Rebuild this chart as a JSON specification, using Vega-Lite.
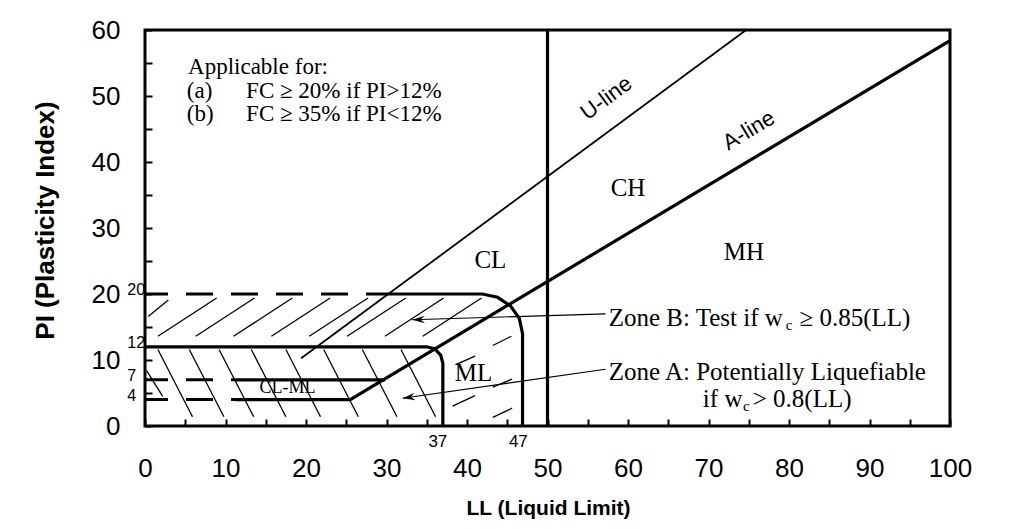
{
  "$schema": "https://vega.github.io/schema/vega-lite/v6.json",
  "width": 805,
  "height": 396,
  "autosize": {"type": "none"},
  "padding": {"left": 145, "top": 30, "right": 60, "bottom": 103},
  "background": "white",
  "view": {"stroke": "black", "strokeWidth": 3},
  "datasets": {
    "lines": [
      {"id": "D20", "ord": 1, "LL": 0, "PI": 20},
      {"id": "D20", "ord": 2, "LL": 30.3, "PI": 20},
      {"id": "D7", "ord": 1, "LL": 0, "PI": 7},
      {"id": "D7", "ord": 2, "LL": 11.2, "PI": 7},
      {"id": "D4", "ord": 1, "LL": 0, "PI": 4},
      {"id": "D4", "ord": 2, "LL": 11.2, "PI": 4},
      {"id": "A", "ord": 1, "LL": 11.2, "PI": 4},
      {"id": "A", "ord": 2, "LL": 25.5, "PI": 4},
      {"id": "A", "ord": 3, "LL": 100, "PI": 58.4},
      {"id": "P7", "ord": 1, "LL": 11.2, "PI": 7},
      {"id": "P7", "ord": 2, "LL": 29.8, "PI": 7},
      {"id": "L50", "ord": 1, "LL": 50, "PI": 0},
      {"id": "L50", "ord": 2, "LL": 50, "PI": 60},
      {"id": "ZB", "ord": 1, "LL": 30.3, "PI": 20},
      {"id": "ZB", "ord": 2, "LL": 41.9, "PI": 20},
      {"id": "ZB", "ord": 3, "LL": 43.8, "PI": 19.5},
      {"id": "ZB", "ord": 4, "LL": 45.4, "PI": 18.2},
      {"id": "ZB", "ord": 5, "LL": 46.5, "PI": 16.3},
      {"id": "ZB", "ord": 6, "LL": 46.9, "PI": 14},
      {"id": "ZB", "ord": 7, "LL": 46.9, "PI": 0},
      {"id": "ZA", "ord": 1, "LL": 0, "PI": 12},
      {"id": "ZA", "ord": 2, "LL": 35, "PI": 12},
      {"id": "ZA", "ord": 3, "LL": 36, "PI": 11.67},
      {"id": "ZA", "ord": 4, "LL": 36.73, "PI": 10.75},
      {"id": "ZA", "ord": 5, "LL": 37, "PI": 9.5},
      {"id": "ZA", "ord": 6, "LL": 37, "PI": 0},
      {"id": "U", "ord": 1, "LL": 19.4, "PI": 10.26},
      {"id": "U", "ord": 2, "LL": 74.67, "PI": 60},
      {"id": "AB", "ord": 1, "LL": 57.2, "PI": 17.0},
      {"id": "AB", "ord": 2, "LL": 33.2, "PI": 16.1},
      {"id": "AA", "ord": 1, "LL": 57.2, "PI": 8.6},
      {"id": "AA", "ord": 2, "LL": 32.0, "PI": 4.2}
    ],
    "hatch": [
      {"LL": 0.4, "PI": 16.6, "LL2": 2.9, "PI2": 19.1},
      {"LL": 1.6, "PI": 13.6, "LL2": 8.9, "PI2": 19.4},
      {"LL": 6.3, "PI": 13.6, "LL2": 13.6, "PI2": 19.4},
      {"LL": 11.0, "PI": 13.6, "LL2": 18.3, "PI2": 19.4},
      {"LL": 15.7, "PI": 13.6, "LL2": 23.0, "PI2": 19.4},
      {"LL": 20.4, "PI": 13.6, "LL2": 27.7, "PI2": 19.4},
      {"LL": 25.1, "PI": 13.6, "LL2": 32.4, "PI2": 19.4},
      {"LL": 29.8, "PI": 13.6, "LL2": 37.1, "PI2": 19.4},
      {"LL": 34.5, "PI": 13.6, "LL2": 41.8, "PI2": 19.4},
      {"LL": 43.2, "PI": 12.2, "LL2": 45.5, "PI2": 13.6},
      {"LL": 38.6, "PI": 9.3, "LL2": 41.0, "PI2": 10.6},
      {"LL": 43.2, "PI": 5.9, "LL2": 45.6, "PI2": 7.1},
      {"LL": 38.2, "PI": 3.0, "LL2": 41.0, "PI2": 4.6},
      {"LL": 43.2, "PI": 1.3, "LL2": 45.6, "PI2": 2.7},
      {"LL": 0.2, "PI": 8.4, "LL2": 2.2, "PI2": 4.5},
      {"LL": 1.6, "PI": 11.6, "LL2": 5.9, "PI2": 1.4},
      {"LL": 5.5, "PI": 11.6, "LL2": 9.8, "PI2": 1.4},
      {"LL": 9.2, "PI": 11.6, "LL2": 13.5, "PI2": 1.4},
      {"LL": 13.2, "PI": 11.6, "LL2": 17.5, "PI2": 1.4},
      {"LL": 17.5, "PI": 11.6, "LL2": 21.8, "PI2": 1.4},
      {"LL": 22.2, "PI": 11.6, "LL2": 26.5, "PI2": 1.4},
      {"LL": 27.0, "PI": 11.6, "LL2": 31.3, "PI2": 1.4},
      {"LL": 31.8, "PI": 11.6, "LL2": 36.1, "PI2": 1.4}
    ],
    "tipB": [{"LL": 33.2, "PI": 16.1}],
    "tipA": [{"LL": 32.0, "PI": 4.2}],
    "noteText": [
      {"t": "Applicable for:", "LL": 5.35, "PI": 53.33},
      {"t": "(a)", "LL": 5.2, "PI": 49.77},
      {"t": "FC ≥ 20% if PI>12%", "LL": 12.56, "PI": 49.77},
      {"t": "(b)", "LL": 5.2, "PI": 46.21},
      {"t": "FC ≥ 35% if PI<12%", "LL": 12.56, "PI": 46.21}
    ],
    "serifLeft": [
      {"t": "Zone B: Test if w", "LL": 57.6, "PI": 15.2},
      {"t": "≥ 0.85(LL)", "LL": 81.3, "PI": 15.2},
      {"t": "Zone A: Potentially Liquefiable", "LL": 57.6, "PI": 7.0},
      {"t": "if w", "LL": 69.3, "PI": 2.9},
      {"t": "> 0.8(LL)", "LL": 75.5, "PI": 2.9}
    ],
    "subs": [
      {"t": "c", "LL": 79.6, "PI": 14.5},
      {"t": "c", "LL": 74.3, "PI": 2.2}
    ],
    "serifCenter": [
      {"t": "CH", "LL": 60.0, "PI": 36.1},
      {"t": "MH", "LL": 74.4, "PI": 26.4},
      {"t": "CL", "LL": 42.9, "PI": 25.2},
      {"t": "ML", "LL": 40.8, "PI": 8.0}
    ],
    "clml": [{"t": "CL-ML", "LL": 17.7, "PI": 5.8}],
    "uText": [{"t": "U-line", "LL": 57.3, "PI": 49.7}],
    "aText": [{"t": "A-line", "LL": 75.0, "PI": 44.8}],
    "xSmall": [
      {"t": "37", "LL": 37, "PI": -2.4},
      {"t": "47", "LL": 47, "PI": -2.4}
    ],
    "ySmall": [
      {"t": "20", "LL": -2.2, "PI": 20},
      {"t": "12", "LL": -2.2, "PI": 12},
      {"t": "7", "LL": -2.2, "PI": 7},
      {"t": "4", "LL": -2.2, "PI": 4}
    ]
  },
  "encoding": {
    "x": {
      "field": "LL",
      "type": "quantitative",
      "scale": {"domain": [0, 100], "nice": false, "zero": false},
      "axis": {
        "title": "LL (Liquid Limit)",
        "values": [0, 5, 10, 15, 20, 25, 30, 35, 40, 45, 50, 55, 60, 65, 70, 75, 80, 85, 90, 95, 100],
        "labelExpr": "datum.value % 10 === 0 ? datum.label : ''",
        "tickSize": -7,
        "tickWidth": 2,
        "tickColor": "black",
        "domain": false,
        "grid": false,
        "labelFont": "Liberation Sans",
        "labelFontSize": 26,
        "labelColor": "black",
        "labelPadding": 49,
        "labelBaseline": "middle",
        "labelFlush": false,
        "labelOverlap": false,
        "titleFont": "Liberation Sans",
        "titleFontWeight": "bold",
        "titleFontSize": 21,
        "titleColor": "black",
        "titleX": 403,
        "titleY": 82,
        "titleBaseline": "middle"
      }
    },
    "y": {
      "field": "PI",
      "type": "quantitative",
      "scale": {"domain": [0, 60], "nice": false, "zero": false},
      "axis": {
        "title": "PI (Plasticity Index)",
        "values": [0, 5, 10, 15, 20, 25, 30, 35, 40, 45, 50, 55, 60],
        "labelExpr": "datum.value % 10 === 0 ? datum.label : ''",
        "tickSize": -7,
        "tickWidth": 2,
        "tickColor": "black",
        "domain": false,
        "grid": false,
        "labelFont": "Liberation Sans",
        "labelFontSize": 26,
        "labelColor": "black",
        "labelPadding": 32,
        "labelFlush": false,
        "labelOverlap": false,
        "titleFont": "Liberation Sans",
        "titleFontWeight": "bold",
        "titleFontSize": 26,
        "titleColor": "black",
        "titleAngle": 270,
        "titleX": -100,
        "titleY": 190,
        "titleBaseline": "middle",
        "titleAlign": "center"
      }
    }
  },
  "layer": [
    {
      "data": {"name": "hatch"},
      "mark": {"type": "rule", "color": "black", "strokeWidth": 1.3},
      "encoding": {"x2": {"field": "LL2"}, "y2": {"field": "PI2"}}
    },
    {
      "data": {"name": "lines"},
      "transform": [{"filter": {"field": "id", "oneOf": ["D20", "D7", "D4"]}}],
      "mark": {"type": "line", "color": "black", "strokeWidth": 3, "strokeDash": [27, 18], "strokeDashOffset": 4},
      "encoding": {"detail": {"field": "id"}, "order": {"field": "ord"}}
    },
    {
      "data": {"name": "lines"},
      "transform": [{"filter": {"field": "id", "oneOf": ["A", "P7", "L50", "ZB", "ZA"]}}],
      "mark": {"type": "line", "color": "black", "strokeWidth": 3.2},
      "encoding": {"detail": {"field": "id"}, "order": {"field": "ord"}}
    },
    {
      "data": {"name": "lines"},
      "transform": [{"filter": {"field": "id", "oneOf": ["U"]}}],
      "mark": {"type": "line", "color": "black", "strokeWidth": 1.8},
      "encoding": {"detail": {"field": "id"}, "order": {"field": "ord"}}
    },
    {
      "data": {"name": "lines"},
      "transform": [{"filter": {"field": "id", "oneOf": ["AB", "AA"]}}],
      "mark": {"type": "line", "color": "black", "strokeWidth": 1.2},
      "encoding": {"detail": {"field": "id"}, "order": {"field": "ord"}}
    },
    {
      "data": {"name": "tipB"},
      "mark": {"type": "point", "shape": "M0,0L2,-0.6L1.3,0L2,0.6Z", "filled": true, "color": "black", "opacity": 1, "size": 160, "angle": -1, "strokeWidth": 0}
    },
    {
      "data": {"name": "tipA"},
      "mark": {"type": "point", "shape": "M0,0L2,-0.6L1.3,0L2,0.6Z", "filled": true, "color": "black", "opacity": 1, "size": 160, "angle": -8.5, "strokeWidth": 0}
    },
    {
      "data": {"name": "noteText"},
      "mark": {"type": "text", "font": "Liberation Serif", "fontSize": 23, "align": "left", "baseline": "alphabetic", "color": "black"},
      "encoding": {"text": {"field": "t"}}
    },
    {
      "data": {"name": "serifLeft"},
      "mark": {"type": "text", "font": "Liberation Serif", "fontSize": 25, "align": "left", "baseline": "alphabetic", "color": "black"},
      "encoding": {"text": {"field": "t"}}
    },
    {
      "data": {"name": "subs"},
      "mark": {"type": "text", "font": "Liberation Serif", "fontSize": 15, "align": "left", "baseline": "alphabetic", "color": "black"},
      "encoding": {"text": {"field": "t"}}
    },
    {
      "data": {"name": "serifCenter"},
      "mark": {"type": "text", "font": "Liberation Serif", "fontSize": 25, "align": "center", "baseline": "middle", "color": "black"},
      "encoding": {"text": {"field": "t"}}
    },
    {
      "data": {"name": "clml"},
      "mark": {"type": "text", "font": "Liberation Serif", "fontSize": 18, "align": "center", "baseline": "middle", "color": "black"},
      "encoding": {"text": {"field": "t"}}
    },
    {
      "data": {"name": "uText"},
      "mark": {"type": "text", "font": "Liberation Sans", "fontSize": 22, "align": "center", "baseline": "middle", "color": "black", "angle": -36.5},
      "encoding": {"text": {"field": "t"}}
    },
    {
      "data": {"name": "aText"},
      "mark": {"type": "text", "font": "Liberation Sans", "fontSize": 22, "align": "center", "baseline": "middle", "color": "black", "angle": -31},
      "encoding": {"text": {"field": "t"}}
    },
    {
      "data": {"name": "xSmall"},
      "mark": {"type": "text", "font": "Liberation Sans", "fontSize": 17, "align": "center", "baseline": "middle", "color": "black", "dx": -5},
      "encoding": {"text": {"field": "t"}}
    },
    {
      "data": {"name": "ySmall"},
      "mark": {"type": "text", "font": "Liberation Sans", "fontSize": 16, "align": "left", "baseline": "middle", "color": "black", "dy": -4},
      "encoding": {"text": {"field": "t"}}
    }
  ]
}
